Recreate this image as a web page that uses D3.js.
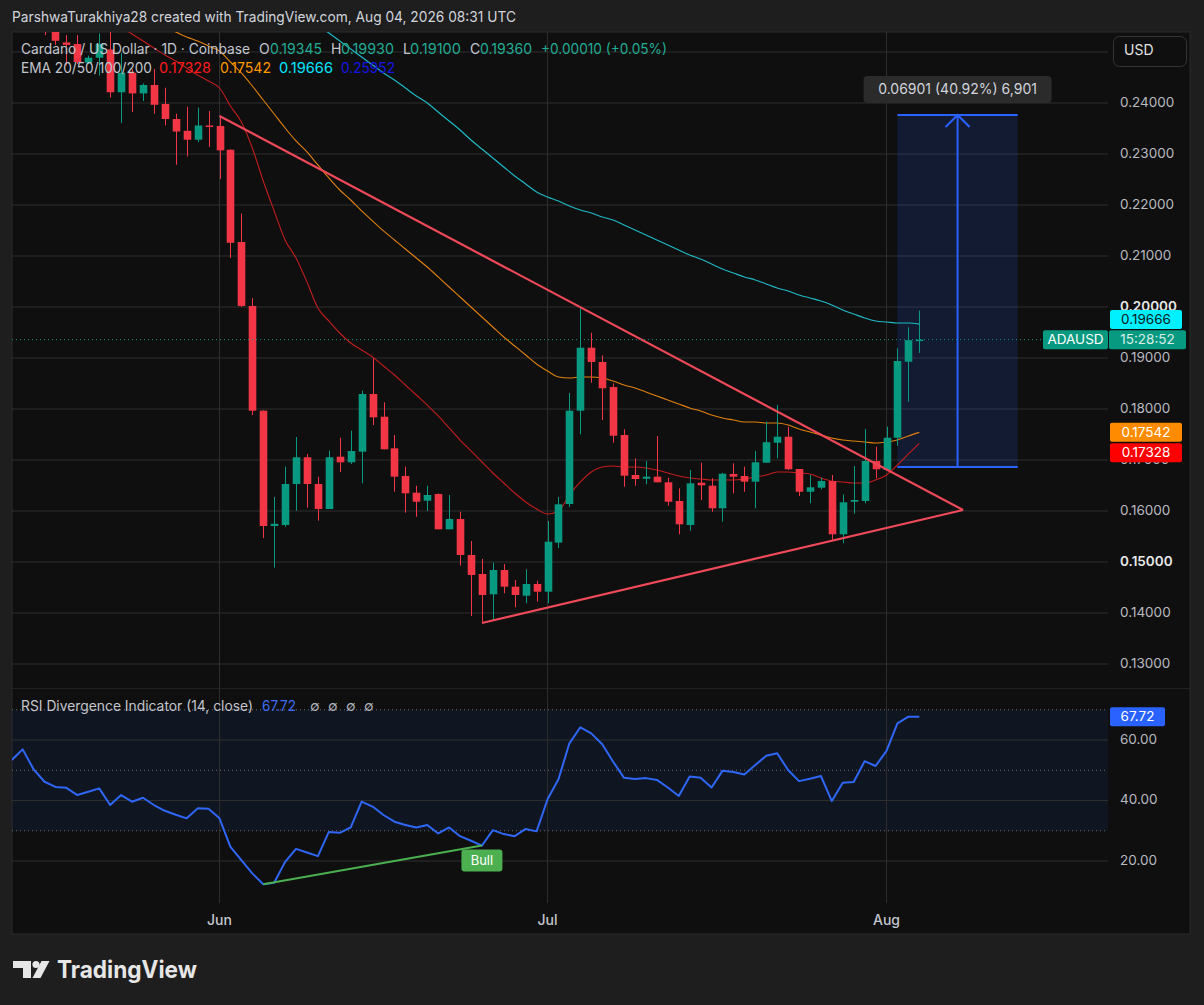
<!DOCTYPE html>
<html>
<head>
<meta charset="utf-8">
<script src="https://cdn.jsdelivr.net/npm/d3@7"></script>
<style>
body { margin: 0; background: #1e1e1e; }
svg { display: block; font-family: "Inter", "Roboto", "DejaVu Sans", sans-serif; }
</style>
</head>
<body>
<svg width="1204" height="1005"></svg>
<script>
// daily ADAUSD candles, 13 May - 4 Aug 2026
const dates = [
  "2026-05-13","2026-05-14","2026-05-15","2026-05-16","2026-05-17","2026-05-18","2026-05-19","2026-05-20","2026-05-21","2026-05-22",
  "2026-05-23","2026-05-24","2026-05-25","2026-05-26","2026-05-27","2026-05-28","2026-05-29","2026-05-30","2026-05-31",
  "2026-06-01","2026-06-02","2026-06-03","2026-06-04","2026-06-05","2026-06-06","2026-06-07","2026-06-08","2026-06-09","2026-06-10",
  "2026-06-11","2026-06-12","2026-06-13","2026-06-14","2026-06-15","2026-06-16","2026-06-17","2026-06-18","2026-06-19","2026-06-20",
  "2026-06-21","2026-06-22","2026-06-23","2026-06-24","2026-06-25","2026-06-26","2026-06-27","2026-06-28","2026-06-29","2026-06-30",
  "2026-07-01","2026-07-02","2026-07-03","2026-07-04","2026-07-05","2026-07-06","2026-07-07","2026-07-08","2026-07-09","2026-07-10",
  "2026-07-11","2026-07-12","2026-07-13","2026-07-14","2026-07-15","2026-07-16","2026-07-17","2026-07-18","2026-07-19","2026-07-20",
  "2026-07-21","2026-07-22","2026-07-23","2026-07-24","2026-07-25","2026-07-26","2026-07-27","2026-07-28","2026-07-29","2026-07-30",
  "2026-07-31","2026-08-01","2026-08-02","2026-08-03","2026-08-04"
];

const open = [
  0.2640, 0.2610, 0.2665, 0.2590, 0.2555, 0.25188, 0.25157, 0.24790, 0.24888, 0.25049, 0.24210, 0.24594, 0.24188, 0.24353, 0.23980, 0.23686, 0.23455, 0.23280, 0.23559,
  0.23549, 0.23084, 0.21275, 0.20020, 0.17967, 0.15706, 0.15725, 0.16529, 0.17053, 0.16529, 0.16039, 0.17065, 0.16955, 0.17163, 0.18294, 0.17849, 0.17229, 0.16686, 0.16359, 0.16202, 0.16333, 0.15641, 0.15843, 0.15137, 0.14765, 0.14367, 0.14843, 0.14516, 0.14339, 0.14569,
  0.14418, 0.15380, 0.16137, 0.17967, 0.19202, 0.18922, 0.18431, 0.17490, 0.16706, 0.16633, 0.16673, 0.16563, 0.16196, 0.15725, 0.16555, 0.16496, 0.16053, 0.16725, 0.16686, 0.16575, 0.16947, 0.17339, 0.17457, 0.16824, 0.16378, 0.16457, 0.16588, 0.15543, 0.16182, 0.16196, 0.16980,
  0.16804, 0.17437, 0.18927, 0.19345
];
const high = [
  0.2660, 0.2680, 0.2670, 0.2600, 0.2560, 0.25333, 0.25333, 0.24929, 0.25363, 0.25398, 0.24980, 0.24667, 0.24384, 0.24667, 0.24300, 0.23790, 0.23929, 0.23910, 0.23843,
  0.23755, 0.23090, 0.21833, 0.20176, 0.17975, 0.16275, 0.16869, 0.17451, 0.17118, 0.16673, 0.17182, 0.17437, 0.17575, 0.18359, 0.18994, 0.18131, 0.17490, 0.16869, 0.16496, 0.16496, 0.16347, 0.16314, 0.15986, 0.15412, 0.15059, 0.14986, 0.14961, 0.14647, 0.14857, 0.14633,
  0.15804, 0.16275, 0.18314, 0.19975, 0.19496, 0.19053, 0.18504, 0.17602, 0.17033, 0.16980, 0.17471, 0.16653, 0.16445, 0.16804, 0.16947, 0.16641, 0.16751, 0.16935, 0.16869, 0.17176, 0.17751, 0.18078, 0.17653, 0.16824, 0.16706, 0.16653, 0.16706, 0.16327, 0.16882, 0.17608, 0.17261,
  0.17653, 0.19190, 0.19602, 0.19930
];
const low = [
  0.2600, 0.2600, 0.2580, 0.2533, 0.2514, 0.24735, 0.24765, 0.24765, 0.24539, 0.24106, 0.23608, 0.23824, 0.24039, 0.23790, 0.23559, 0.22790, 0.22951, 0.23231, 0.23137,
  0.22510, 0.20961, 0.20000, 0.17882, 0.15471, 0.14890, 0.15692, 0.16006, 0.16065, 0.15810, 0.16039, 0.16765, 0.16922, 0.16543, 0.17686, 0.17210, 0.16378, 0.15967, 0.15888, 0.16000, 0.15641, 0.15641, 0.14927, 0.13941, 0.13829, 0.13863, 0.14386, 0.14112, 0.14190, 0.14222,
  0.14190, 0.15275, 0.16078, 0.17504, 0.18516, 0.17784, 0.17339, 0.16476, 0.16496, 0.16524, 0.16563, 0.16104, 0.15543, 0.15614, 0.16216, 0.15986, 0.15790, 0.16347, 0.16378, 0.16053, 0.16947, 0.17033, 0.16804, 0.16294, 0.16151, 0.16425, 0.15431, 0.15367, 0.15947, 0.16151, 0.16641,
  0.16804, 0.17280, 0.18143, 0.19100
];
const close = [
  0.2610, 0.2665, 0.2590, 0.2555, 0.2522, 0.25139, 0.24804, 0.24888, 0.25157, 0.24210, 0.24594, 0.24188, 0.24353, 0.23965, 0.23686, 0.23441, 0.23280, 0.23559, 0.23529,
  0.23071, 0.21259, 0.20020, 0.17967, 0.15706, 0.15749, 0.16529, 0.17053, 0.16529, 0.16039, 0.17053, 0.16955, 0.17176, 0.18294, 0.17837, 0.17210, 0.16673, 0.16347, 0.16182, 0.16314, 0.15641, 0.15843, 0.15137, 0.14745, 0.14353, 0.14843, 0.14516, 0.14353, 0.14569, 0.14418,
  0.15398, 0.16131, 0.17967, 0.19202, 0.18922, 0.18406, 0.17476, 0.16692, 0.16627, 0.16673, 0.16563, 0.16182, 0.15739, 0.16543, 0.16504, 0.16053, 0.16731, 0.16673, 0.16575, 0.16955, 0.17349, 0.17457, 0.16818, 0.16378, 0.16465, 0.16588, 0.15543, 0.16171, 0.16216, 0.16980, 0.16818,
  0.17437, 0.18941, 0.19350, 0.19360
];

// EMA lines as traced (null = above the visible pane)
const ema20 = [
  null, null, null, null, null, null, null, null, null, null, 0.25491, 0.25353, 0.25216, 0.25079, 0.24942, 0.24824, 0.24687, 0.24549, 0.24432,
  0.24294, 0.23942, 0.23628, 0.23118, 0.22471, 0.21883, 0.21314, 0.20961, 0.20490, 0.19981, 0.19726, 0.19490, 0.19294, 0.19157, 0.19020, 0.18843, 0.18667, 0.18471, 0.18275, 0.18078, 0.17863, 0.17628, 0.17392, 0.17177, 0.16961, 0.16745, 0.16549, 0.16353, 0.16177, 0.16039,
  0.15941, 0.16000, 0.16314, 0.16569, 0.16765, 0.16863, 0.16882, 0.16863, 0.16863, 0.16843, 0.16804, 0.16745, 0.16686, 0.16647, 0.16627, 0.16608, 0.16608, 0.16608, 0.16627, 0.16667, 0.16706, 0.16765, 0.16765, 0.16745, 0.16725, 0.16647, 0.16588, 0.16569, 0.16549, 0.16549, 0.16608,
  0.16706, 0.16902, 0.17118, 0.17328
];
const ema50 = [
  null, null, null, null, null, null, null, null, null, null, null, null, null, null, 0.25491, 0.25393, 0.25295, 0.25216, 0.25118,
  0.25020, 0.24804, 0.24589, 0.24333, 0.24059, 0.23785, 0.23510, 0.23255, 0.23040, 0.22785, 0.22530, 0.22294, 0.22098, 0.21883, 0.21687, 0.21491, 0.21314, 0.21138, 0.20961, 0.20784, 0.20589, 0.20392, 0.20196, 0.20000, 0.19804, 0.19608, 0.19412, 0.19235, 0.19059, 0.18882,
  0.18745, 0.18628, 0.18608, 0.18628, 0.18628, 0.18608, 0.18549, 0.18471, 0.18412, 0.18333, 0.18255, 0.18176, 0.18098, 0.18020, 0.17961, 0.17882, 0.17824, 0.17784, 0.17745, 0.17745, 0.17725, 0.17725, 0.17686, 0.17608, 0.17549, 0.17490, 0.17431, 0.17392, 0.17373, 0.17353, 0.17333,
  0.17353, 0.17392, 0.17471, 0.17542
];
const ema100 = [
  null, null, null, null, null, null, null, null, null, null, null, null, null, null, null, null, null, null, null,
  null, null, null, null, null, null, null, null, null, 0.25530, 0.25373, 0.25216, 0.25059, 0.24902, 0.24745, 0.24589, 0.24451, 0.24294, 0.24137, 0.24000, 0.23824, 0.23647, 0.23471, 0.23275, 0.23098, 0.22922, 0.22745, 0.22569, 0.22412, 0.22255,
  0.22157, 0.22078, 0.21980, 0.21902, 0.21843, 0.21765, 0.21706, 0.21608, 0.21510, 0.21412, 0.21314, 0.21216, 0.21118, 0.21020, 0.20941, 0.20843, 0.20745, 0.20667, 0.20589, 0.20530, 0.20451, 0.20373, 0.20314, 0.20236, 0.20177, 0.20118, 0.20039, 0.19941, 0.19863, 0.19785, 0.19726,
  0.19706, 0.19686, 0.19686, 0.19666
];
const ema200Last = 0.25952;

const rsi = [
  53.4, 56.9, 50.3, 46.2, 44.5, 44.2, 41.8, 42.9, 44.0, 38.5, 41.8, 39.6, 40.9, 38.5, 36.6, 35.3, 34.1, 37.4, 37.3,
  34.1, 24.7, 20.3, 15.9, 12.3, 12.8, 19.7, 24.0, 22.8, 21.6, 29.6, 29.3, 31.1, 39.6, 38.0, 35.2, 33.0, 31.9, 31.1, 31.9, 29.1, 31.1, 28.2, 26.7, 25.1, 30.2, 28.9, 28.2, 30.6, 29.8,
  40.4, 47.0, 58.9, 64.2, 62.2, 58.6, 52.8, 47.5, 47.1, 47.4, 46.8, 44.3, 41.5, 47.9, 47.5, 44.3, 49.8, 49.4, 48.6, 51.7, 54.8, 55.6, 50.1, 46.4, 47.2, 48.1, 39.8, 45.9, 46.1, 53.0, 51.4,
  56.4, 65.5, 67.7, 67.72
];

const priceTicks = [0.13, 0.14, 0.15, 0.16, 0.17, 0.18, 0.19, 0.20, 0.21, 0.22, 0.23, 0.24, 0.25];
const priceLabels = [0.13, 0.14, 0.15, 0.16, 0.17, 0.18, 0.19, 0.20, 0.21, 0.22, 0.23, 0.24];
const rsiTicks = [20, 40, 60];
const rsiLevels = [30, 50, 70];

// drawings
const triDown = [["2026-06-01", 0.23745], ["2026-08-08", 0.16020]];
const triUp = [["2026-06-25", 0.13804], ["2026-08-08", 0.16020]];
const bullDiv = [["2026-06-05", 12.3], ["2026-06-25", 25.1]];
const measureDates = ["2026-08-02", "2026-08-13"];
const measurePrices = [0.16864, 0.23765];

let parse = s => new Date(s + "T00:00:00Z");
let dt = dates.map(parse);
let last = dates.length - 1;

let W = 1204, H = 1005;
let L = 12, R = 1108, AX = 1190, T = 32, MB = 688, RT = 689, RB = 903, FB = 934;

let svg = d3.select("svg");

let x = d3.scaleUtc()
    .domain([parse("2026-06-01"), parse("2026-08-01")])
    .range([219.5, 886.5]);
let y = d3.scaleLinear().domain([0.13, 0.24]).range([664, 103]);
let yR = d3.scaleLinear().domain([20, 60]).range([861, 740]);

let green = "#089981", red = "#f23645", grid = "#2e2e2e";

svg.append("rect").attr("width", W).attr("height", H).attr("fill", "#1e1e1e");
svg.append("rect").attr("x", L).attr("y", T).attr("width", AX - L).attr("height", FB - T)
    .attr("fill", "#0f0f0f").attr("stroke", "#2a2a2a");

let defs = svg.append("defs");
defs.append("clipPath").attr("id", "mainClip")
    .append("rect").attr("x", L).attr("y", T).attr("width", R - L).attr("height", MB - T);
defs.append("clipPath").attr("id", "rsiClip")
    .append("rect").attr("x", L).attr("y", RT).attr("width", R - L).attr("height", RB - RT);

// header
svg.append("text")
    .attr("x", 12).attr("y", 18).attr("dominant-baseline", "middle")
    .attr("textLength", 504).attr("lengthAdjust", "spacingAndGlyphs")
    .style("fill", "#d1d4dc").style("font-size", "14.5px")
    .text("ParshwaTurakhiya28 created with TradingView.com, Aug 04, 2026 08:31 UTC");

// ---------- main pane ----------
let main = svg.append("g").attr("clip-path", "url(#mainClip)");

main.selectAll(".hgrid")
    .data(priceTicks)
    .join("line")
    .attr("x1", L).attr("x2", R)
    .attr("y1", d => y(d)).attr("y2", d => y(d))
    .style("stroke", grid).style("stroke-width", 1);

let months = d3.utcMonth.range(dt[0], dt[last]);

main.selectAll(".vgrid")
    .data(months)
    .join("line")
    .attr("x1", d => x(d)).attr("x2", d => x(d))
    .attr("y1", T).attr("y2", MB)
    .style("stroke", grid).style("stroke-width", 1);

// measure box
let mx0 = x(parse(measureDates[0])), mx1 = x(parse(measureDates[1]));
let my0 = y(measurePrices[0]), my1 = y(measurePrices[1]);
let mxm = (mx0 + mx1) / 2;
main.append("rect")
    .attr("x", mx0).attr("y", my1).attr("width", mx1 - mx0).attr("height", my0 - my1)
    .style("fill", "rgba(41,98,255,0.15)");
main.selectAll(".mline")
    .data([my0, my1])
    .join("line")
    .attr("x1", mx0).attr("x2", mx1).attr("y1", d => d).attr("y2", d => d)
    .style("stroke", "#2962ff").style("stroke-width", 2);
main.append("line")
    .attr("x1", mxm).attr("x2", mxm).attr("y1", my0).attr("y2", my1)
    .style("stroke", "#2962ff").style("stroke-width", 2);
main.append("path")
    .attr("d", `M${mxm - 12},${my1 + 12}L${mxm},${my1}L${mxm + 12},${my1 + 12}`)
    .style("fill", "none").style("stroke", "#2962ff").style("stroke-width", 2);

// EMAs
let emaLine = d3.line()
    .defined(d => d != null)
    .x((d, i) => x(dt[i]))
    .y(d => y(d))
    .curve(d3.curveMonotoneX);

main.append("path").attr("d", emaLine(ema100))
    .style("fill", "none").style("stroke", "#1fb8c4").style("stroke-width", 1.2);
main.append("path").attr("d", emaLine(ema50))
    .style("fill", "none").style("stroke", "#e0800e").style("stroke-width", 1.1);
main.append("path").attr("d", emaLine(ema20))
    .style("fill", "none").style("stroke", "#c21d1d").style("stroke-width", 1.1);

// candles
let bw = 7.6;
let candles = main.selectAll(".candle")
    .data(dates.map((d, i) => ({ t: dt[i], o: open[i], h: high[i], l: low[i], c: close[i] })))
    .join("g");

candles.append("line")
    .attr("x1", d => Math.round(x(d.t)) + 0.5).attr("x2", d => Math.round(x(d.t)) + 0.5)
    .attr("y1", d => y(d.h)).attr("y2", d => y(d.l))
    .style("stroke", d => d.c >= d.o ? green : red).style("stroke-width", 1);

candles.append("rect")
    .attr("x", d => Math.round(x(d.t)) + 0.5 - bw / 2)
    .attr("width", bw)
    .attr("y", d => y(Math.max(d.o, d.c)))
    .attr("height", d => Math.max(1.5, Math.abs(y(d.o) - y(d.c))))
    .style("fill", d => d.c >= d.o ? green : red);

// triangle
let tLine = d3.line().x(d => x(parse(d[0]))).y(d => y(d[1]));
[triDown, triUp].forEach(seg => {
    main.append("path").attr("d", tLine(seg))
        .style("fill", "none").style("stroke", "#f0495a").style("stroke-width", 2.2);
});

// last price dotted line
main.append("line")
    .attr("x1", L).attr("x2", 1043)
    .attr("y1", y(close[last])).attr("y2", y(close[last]))
    .style("stroke", green).style("stroke-width", 1).style("stroke-dasharray", "1,3");

// measure label
let diff = measurePrices[1] - measurePrices[0];
let mText = diff.toFixed(5) + " (" + (diff / measurePrices[0] * 100).toFixed(2) + "%) " +
    d3.format(",")(Math.round(diff * 100000));
svg.append("rect")
    .attr("x", mxm - 94).attr("y", my1 - 39).attr("width", 188).attr("height", 27).attr("rx", 4)
    .style("fill", "#2b2b2b");
svg.append("text")
    .attr("x", mxm).attr("y", my1 - 25).attr("text-anchor", "middle").attr("dominant-baseline", "middle")
    .style("fill", "#d1d4dc").style("font-size", "14px")
    .text(mText);

// legend
function legend(x0, y0, txt, color, len) {
    let t = svg.append("text")
        .attr("x", x0).attr("y", y0).attr("dominant-baseline", "middle")
        .style("fill", color).style("font-size", "14px")
        .text(txt);
    if (len) t.attr("textLength", len).attr("lengthAdjust", "spacingAndGlyphs");
    return t;
}
let lg = "#c3c6ce", teal = "#22ab94";
legend(21, 50, "Cardano / US Dollar · 1D · Coinbase", lg, 229);
legend(259, 50, "O", lg);
legend(270, 50, open[last].toFixed(5), teal, 52);
legend(331, 50, "H", lg);
legend(341, 50, high[last].toFixed(5), teal, 53);
legend(403, 50, "L", lg);
legend(410, 50, low[last].toFixed(5), teal, 51);
legend(470, 50, "C", lg);
legend(480, 50, close[last].toFixed(5), teal, 52);
let chg = close[last] - close[last - 1];
legend(541, 50, "+" + chg.toFixed(5) + " (+" + (chg / close[last - 1] * 100).toFixed(2) + "%)", teal, 126);

legend(21, 69, "EMA 20/50/100/200", lg, 131);
legend(159, 69, ema20[last].toFixed(5), "#ff1a1a", 52);
legend(220, 69, ema50[last].toFixed(5), "#ff9800", 51);
legend(279, 69, ema100[last].toFixed(5), "#00e5ff", 54);
legend(341, 69, ema200Last.toFixed(5), "#1515e6", 54);

// price axis
svg.selectAll(".plabel")
    .data(priceLabels)
    .join("text")
    .attr("x", 1120).attr("y", d => y(d)).attr("dominant-baseline", "middle")
    .style("fill", d => (d === 0.20 || d === 0.15) ? "#e8e8e8" : "#b8bac0")
    .style("font-weight", d => (d === 0.20 || d === 0.15) ? 600 : 400)
    .style("font-size", "13.5px")
    .text(d => d.toFixed(5));

svg.append("rect")
    .attr("x", 1113.5).attr("y", 36.5).attr("width", 73).attr("height", 30).attr("rx", 6)
    .style("fill", "#0f0f0f").style("stroke", "#353535");
svg.append("text")
    .attr("x", 1124).attr("y", 51.5).attr("dominant-baseline", "middle")
    .style("fill", "#e0e0e0").style("font-size", "14px").text("USD");

function priceTag(yc, txt, bg, fg, x0, w) {
    svg.append("rect")
        .attr("x", x0).attr("y", yc - 9.5).attr("width", w).attr("height", 19).attr("rx", 2)
        .style("fill", bg);
    svg.append("text")
        .attr("x", x0 + w / 2).attr("y", yc + 0.5).attr("text-anchor", "middle").attr("dominant-baseline", "middle")
        .style("fill", fg).style("font-size", "13.5px").text(txt);
}
priceTag(y(ema100[last]) - 4.5, ema100[last].toFixed(5), "#00f0ff", "#101820", 1110, 72);
priceTag(y(close[last]), "ADAUSD", green, "#ffffff", 1043, 65);
priceTag(y(close[last]), "15:28:52", green, "#d8efe9", 1109, 77);
priceTag(y(ema50[last]), ema50[last].toFixed(5), "#ff8c00", "#ffffff", 1110, 72);
priceTag(y(ema20[last]) + 9.5, ema20[last].toFixed(5), "#ff0000", "#ffffff", 1110, 72);

// ---------- RSI pane ----------
let rp = svg.append("g").attr("clip-path", "url(#rsiClip)");

rp.append("rect")
    .attr("x", L).attr("width", R - L)
    .attr("y", yR(70)).attr("height", yR(30) - yR(70))
    .style("fill", "rgba(41,120,255,0.08)");

rp.selectAll(".rgrid")
    .data(rsiTicks)
    .join("line")
    .attr("x1", L).attr("x2", R).attr("y1", d => yR(d)).attr("y2", d => yR(d))
    .style("stroke", grid);

rp.selectAll(".rlevel")
    .data(rsiLevels)
    .join("line")
    .attr("x1", L).attr("x2", R).attr("y1", d => yR(d)).attr("y2", d => yR(d))
    .style("stroke", "#6a6d76").style("stroke-dasharray", "1,3");

rp.selectAll(".rvgrid")
    .data(months)
    .join("line")
    .attr("x1", d => x(d)).attr("x2", d => x(d))
    .attr("y1", RT).attr("y2", RB)
    .style("stroke", grid);

let rsiLine = d3.line().x((d, i) => x(dt[i])).y(d => yR(d));
rp.append("path").attr("d", rsiLine(rsi))
    .style("fill", "none").style("stroke", "#2f66f6").style("stroke-width", 2)
    .style("stroke-linejoin", "round");

let divLine = d3.line().x(d => x(parse(d[0]))).y(d => yR(d[1]));
rp.append("path").attr("d", divLine(bullDiv))
    .style("fill", "none").style("stroke", "#4caf50").style("stroke-width", 2);

let bx = x(parse(bullDiv[1][0])), by = yR(bullDiv[1][1]);
rp.append("rect")
    .attr("x", bx - 20.5).attr("y", by + 4).attr("width", 41).attr("height", 22).attr("rx", 3)
    .style("fill", "#4caf50");
rp.append("text")
    .attr("x", bx).attr("y", by + 15.5).attr("text-anchor", "middle").attr("dominant-baseline", "middle")
    .style("fill", "#ffffff").style("font-size", "13px").text("Bull");

svg.append("line")
    .attr("x1", L).attr("x2", AX).attr("y1", MB + 0.5).attr("y2", MB + 0.5)
    .style("stroke", "#222");

legend(21, 707, "RSI Divergence Indicator (14, close)", lg, 232);
legend(262, 707, rsi[last].toFixed(2), "#3d6df2", 34);
[310, 328, 346, 364].forEach(px => legend(px, 707, "∅", "#b0b3bb"));

svg.selectAll(".rlabel")
    .data(rsiTicks)
    .join("text")
    .attr("x", 1120).attr("y", d => yR(d)).attr("dominant-baseline", "middle")
    .style("fill", "#b8bac0").style("font-size", "13.5px")
    .text(d => d.toFixed(2));

priceTag(yR(rsi[last]), rsi[last].toFixed(2), "#2962ff", "#ffffff", 1110, 55);

// time axis
svg.selectAll(".tlabel")
    .data(months)
    .join("text")
    .attr("x", d => x(d)).attr("y", 921).attr("text-anchor", "middle").attr("dominant-baseline", "middle")
    .style("fill", "#c3c6ce").style("font-size", "14px").style("font-weight", 500)
    .text(d3.utcFormat("%b"));

// footer logo
let logo = svg.append("g").style("fill", "#e6e6e6");
logo.append("path").attr("d", "M13,961H31V978H23V968H13Z");
logo.append("circle").attr("cx", 36).attr("cy", 964.5).attr("r", 3.6);
logo.append("path").attr("d", "M41.5,961H49.5L40.5,978H32.5Z");
svg.append("text")
    .attr("x", 57).attr("y", 971).attr("dominant-baseline", "middle")
    .attr("textLength", 140).attr("lengthAdjust", "spacingAndGlyphs")
    .style("fill", "#e6e6e6").style("font-size", "24px").style("font-weight", 700)
    .text("TradingView");
</script>
</body>
</html>
